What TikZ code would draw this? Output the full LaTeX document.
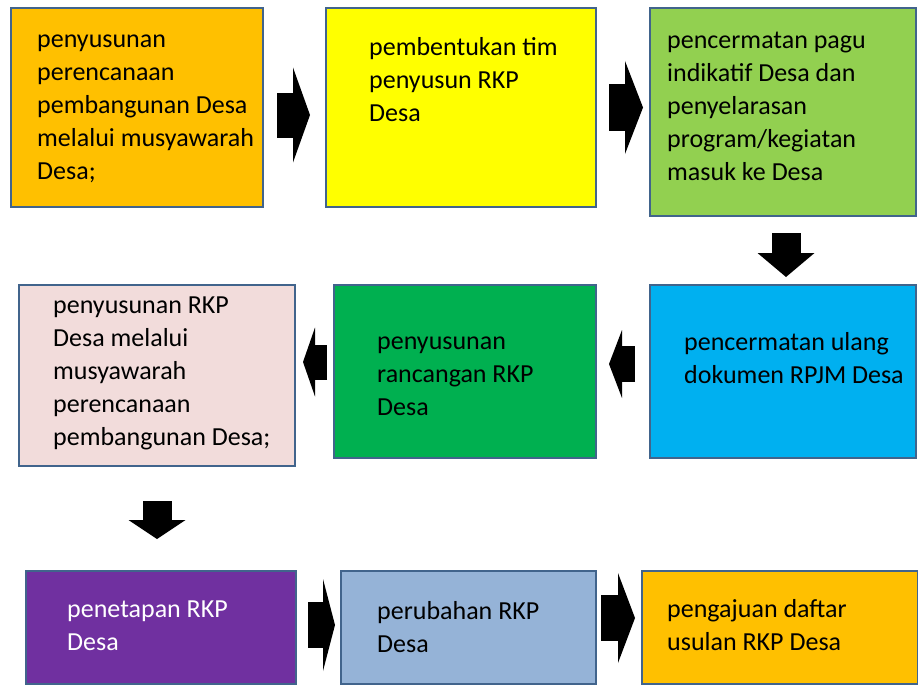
\documentclass[tikz,border=0pt]{standalone}
\usepackage{fontspec}
\setmainfont{Carlito}
\usepackage{tikz}
\usetikzlibrary{arrows.meta}
\usepackage{xcolor}
\definecolor{BoxOrange}{HTML}{FFC000}
\definecolor{BoxYellow}{HTML}{FFFF00}
\definecolor{BoxLime}{HTML}{92D050}
\definecolor{BoxPink}{HTML}{F2DCDB}
\definecolor{BoxGreen}{HTML}{00B050}
\definecolor{BoxCyan}{HTML}{00B0F0}
\definecolor{BoxPurple}{HTML}{7030A0}
\definecolor{BoxSteel}{HTML}{95B3D7}
\definecolor{BoxEdge}{HTML}{41648C}
\tikzset{
   box/.style={draw=BoxEdge,line width=1.2pt,anchor=north west,outer sep=0pt,inner sep=0pt},
   txt/.style={font=\fontsize{26}{33}\selectfont,align=left,anchor=north west,inner sep=0pt},
   fat/.style n args={3}{line width=#1,-{Triangle[length=#2,width=#3,line width=0pt]}}
}
\begin{document}
\begin{tikzpicture}[x=1pt,y=-1pt]
   \useasboundingbox (0,0) rectangle (918,685);
   \node[box,fill=BoxOrange,minimum width=252pt,minimum height=199pt] (mus) at (11,8) {};
   \node[box,fill=BoxYellow,minimum width=270pt,minimum height=199pt] (tim) at (326,8) {};
   \node[box,fill=BoxLime,minimum width=266pt,minimum height=208pt] (pagu) at (650,8) {};
   \node[box,fill=BoxPink,minimum width=276pt,minimum height=181pt] (ren) at (19,285) {};
   \node[box,fill=BoxGreen,minimum width=262pt,minimum height=173pt] (ran) at (334,285) {};
   \node[box,fill=BoxCyan,minimum width=266pt,minimum height=173pt] (rpjm) at (650,285) {};
   \node[box,fill=BoxPurple,minimum width=270pt,minimum height=113pt] (tet) at (26,571) {};
   \node[box,fill=BoxSteel,minimum width=255pt,minimum height=113pt] (ubah) at (341,571) {};
   \node[box,fill=BoxOrange,minimum width=276pt,minimum height=113pt] (usul) at (642,571) {};
   \node[txt] (tmus) at (37,23.9) {\strut penyusunan\\perencanaan\\pembangunan Desa\\melalui musyawarah\\Desa;};
   \node[txt] (ttim) at (369,31.9) {\strut pembentukan tim\\penyusun RKP\\Desa};
   \node[txt] (tpagu) at (667,24.9) {\strut pencermatan pagu\\indikatif Desa dan\\penyelarasan\\program/kegiatan\\masuk ke Desa};
   \node[txt] (tren) at (53,289.9) {\strut penyusunan RKP\\Desa melalui\\musyawarah\\perencanaan\\pembangunan Desa;};
   \node[txt] (tran) at (377,325.9) {\strut penyusunan\\rancangan RKP\\Desa};
   \node[txt] (trpjm) at (684,326.9) {\strut pencermatan ulang\\dokumen RPJM Desa};
   \node[txt,text=white] (ttet) at (67,593.9) {\strut penetapan RKP\\Desa};
   \node[txt] (tubah) at (377,595.9) {\strut perubahan RKP\\Desa};
   \node[txt] (tusul) at (667,593.9) {\strut pengajuan daftar\\usulan RKP Desa};
   \draw[fat={45pt}{17pt}{95pt},shorten <=14pt,shorten >=16pt] ([yshift=-7.5pt]mus.east) -- ([yshift=-7.5pt]tim.west);
   \draw[fat={47pt}{18pt}{93pt},shorten <=13pt,shorten >=7pt] (tim.east) -- ([yshift=4.5pt]pagu.west);
   \draw[fat={29pt}{24pt}{57pt},shorten <=17pt,shorten >=8pt] ([xshift=3pt]pagu.south) -- ([xshift=3pt]rpjm.north);
   \draw[fat={36pt}{13pt}{68pt},shorten <=15pt,shorten >=13pt] ([yshift=7.5pt]rpjm.west) -- ([yshift=7.5pt]ran.east);
   \draw[fat={35pt}{12pt}{69pt},shorten <=7pt,shorten >=8pt] ([yshift=9.5pt]ran.west) -- ([yshift=13.5pt]ren.east);
   \draw[fat={29pt}{19pt}{57pt},shorten <=35pt,shorten >=32pt] (ren.south) -- ([xshift=-4pt]tet.north);
   \draw[fat={46pt}{12pt}{92pt},shorten <=12pt,shorten >=6pt] ([yshift=2.5pt]tet.east) -- ([yshift=2.5pt]ubah.west);
   \draw[fat={46pt}{17pt}{90pt},shorten <=5pt,shorten >=7pt] ([yshift=9.5pt]ubah.east) -- ([yshift=9.5pt]usul.west);
\end{tikzpicture}
\end{document}
